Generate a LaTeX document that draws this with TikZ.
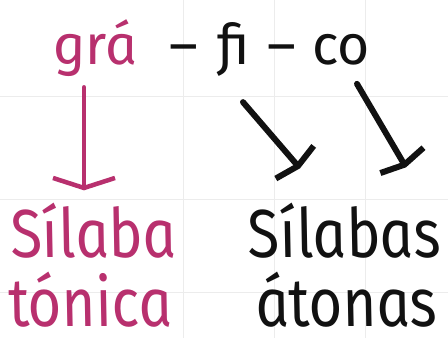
\documentclass[tikz,border=0pt]{standalone}
\usepackage{fontspec}
\usepackage{tikz}
\usetikzlibrary{arrows.meta, positioning}
\newfontfamily\handfont[FakeStretch=0.86,FakeSlant=-0.14]{Fira Sans}
\newfontfamily\handtopfont[FakeStretch=1.0,FakeSlant=-0.14]{Fira Sans}
\definecolor{TonicPink}{HTML}{B8306E}
\definecolor{AtonBlack}{HTML}{111111}
\definecolor{GridGray}{HTML}{ECECEC}
\tikzset{
    % Text styles
    toptext/.style={
        inner sep=0pt,
        anchor=base,
        font=\handtopfont\itshape\fontsize{56}{60}\selectfont
    },
    bottomtext/.style={
        inner sep=0pt,
        anchor=base,
        font=\handfont\itshape\fontsize{68}{72}\selectfont
    },
    % Arrow styles
    tonicarrow/.style={
        -{Straight Barb[length=10pt,width=62pt]},
        line width=4.5pt,
        line cap=round,
        TonicPink
    },
    atonarrow/.style={
        -{Straight Barb[length=5pt,width=50pt]},
        line width=6pt,
        line cap=round,
        AtonBlack
    },
    gridline/.style={
        draw=GridGray,
        line width=1pt
    }
}
\begin{document}
\begin{tikzpicture}[x=1pt,y=1pt]
    \useasboundingbox[fill=white] (0,0) rectangle (448,338);

    % Notebook grid
    \foreach \gx in {183,274,365}
        \draw[gridline] (\gx,0) -- (\gx,338);
    \foreach \gy in {45,138,241}
        \draw[gridline] (0,\gy) -- (448,\gy);

    % Word split in syllables (top)
    \node[toptext,text=TonicPink] (gra) at (97,273) {grá};
    \node[toptext,text=AtonBlack] (dashA) at (186,273) {–};
    \node[toptext,text=AtonBlack] (fi) at (236,273) {fi};
    \node[toptext,text=AtonBlack] (dashB) at (284,273) {–};
    \node[toptext,text=AtonBlack] (co) at (343,273) {co};

    % Labels (bottom)
    \node[bottomtext,text=TonicPink] (silaba) at (96,80) {Sílaba};
    \node[bottomtext,text=TonicPink] (tonica) at (93,12) {tónica};
    \node[bottomtext,text=AtonBlack] (silabas) at (347,80) {Sílabas};
    \node[bottomtext,text=AtonBlack] (atonas) at (349,12) {átonas};

    % Arrows
    \draw[tonicarrow] ([xshift=-13pt,yshift=-10pt]gra.south) -- ([xshift=-12pt,yshift=13pt]silaba.north);
    \draw[atonarrow] ([xshift=7pt,yshift=-25pt]fi.south) -- ([xshift=-47pt,yshift=35pt]silabas.north);
    \draw[atonarrow] ([xshift=14pt,yshift=-18pt]co.south) -- ([xshift=59pt,yshift=36pt]silabas.north);
\end{tikzpicture}
\end{document}
